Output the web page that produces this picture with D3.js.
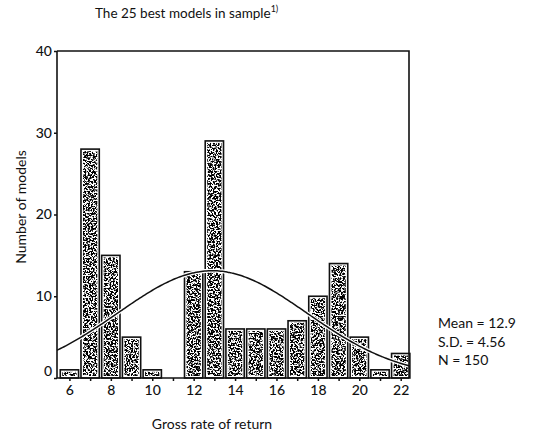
<!DOCTYPE html>
<html>
<head>
<meta charset="utf-8">
<script src="https://cdn.jsdelivr.net/npm/d3@7"></script>
<style>
  html, body { margin: 0; padding: 0; background: #fff; }
  svg { display: block; }
  text { font-family: Lato, "Noto Sans", sans-serif; fill: #111; }
</style>
</head>
<body>
<script>
// Histogram of gross rate of return, with fitted normal curve
const binCenters = [6, 7, 8, 9, 10, 11, 12, 13, 14, 15, 16, 17, 18, 19, 20, 21, 22];
const counts     = [1, 28, 15, 5, 1, 0, 13, 29, 6, 6, 6, 7, 10, 14, 5, 1, 3];
const xTickLabels = [6, 8, 10, 12, 14, 16, 18, 20, 22];
const yTickLabels = [0, 10, 20, 30, 40];
const statLines = ["Mean = 12.9", "S.D. = 4.56", "N = 150"];
const fitMean = 12.9, fitSD = 4.56, fitN = 150, binWidth = 1;

const W = 536, H = 435;
const box = { left: 57, right: 409, top: 51, bottom: 378 };

const svg = d3.select("body").append("svg")
  .attr("width", W).attr("height", H);

// stipple texture for the bar fills
const defs = svg.append("defs");
const grain = defs.append("filter").attr("id", "grain")
  .attr("x", 0).attr("y", 0).attr("width", "100%").attr("height", "100%")
  .attr("filterUnits", "objectBoundingBox");
grain.append("feTurbulence")
  .attr("type", "fractalNoise").attr("baseFrequency", 0.6)
  .attr("numOctaves", 2).attr("seed", 7).attr("result", "noise");
grain.append("feColorMatrix").attr("in", "noise").attr("type", "matrix")
  .attr("values", "0 0 0 0 0  0 0 0 0 0  0 0 0 0 0  1 0 0 0 0")
  .attr("result", "mono");
const ct = grain.append("feComponentTransfer").attr("in", "mono").attr("result", "dots");
ct.append("feFuncA").attr("type", "linear").attr("slope", 10).attr("intercept", -4.4);
grain.append("feComposite").attr("in", "dots").attr("in2", "SourceGraphic").attr("operator", "in");

const x = d3.scaleLinear().domain([5.4, 22.4]).range([box.left, box.right]);
const y = d3.scaleLinear().domain([0, 40]).range([box.bottom, box.top]);

const bins = binCenters.map((c, i) => ({ c, v: counts[i] })).filter(d => d.v > 0);

// bars: black outline, thin white inset, stippled core
const bars = svg.append("g");
bars.selectAll("rect.outer").data(bins).join("rect")
  .attr("class", "outer")
  .attr("x", d => x(d.c - binWidth / 2) + 1.2)
  .attr("y", d => y(d.v))
  .attr("width", d => x(d.c + binWidth / 2) - x(d.c - binWidth / 2) - 2.4)
  .attr("height", d => y(0) - y(d.v))
  .attr("fill", "#fff").attr("stroke", "#111").attr("stroke-width", 1.6);
bars.selectAll("rect.core").data(bins).join("rect")
  .attr("class", "core")
  .attr("x", d => x(d.c - binWidth / 2) + 3.2)
  .attr("y", d => y(d.v) + 2)
  .attr("width", d => x(d.c + binWidth / 2) - x(d.c - binWidth / 2) - 6.4)
  .attr("height", d => Math.max(0, y(0) - y(d.v) - 4))
  .attr("fill", "#000").attr("filter", "url(#grain)");

// normal curve from the stated mean, S.D. and N
const [x0, x1] = x.domain();
const curvePts = d3.range(0, 201).map(k => {
  const t = x0 + (x1 - x0) * k / 200;
  const z = (t - fitMean) / fitSD;
  return [t, fitN * binWidth / (fitSD * Math.sqrt(2 * Math.PI)) * Math.exp(-0.5 * z * z)];
});
const line = d3.line().x(d => x(d[0])).y(d => y(d[1])).curve(d3.curveBasis);
svg.append("path").datum(curvePts).attr("d", line)
  .attr("fill", "none").attr("stroke", "#fff").attr("stroke-width", 4);
svg.append("path").datum(curvePts).attr("d", line)
  .attr("fill", "none").attr("stroke", "#111").attr("stroke-width", 1.5);

// frame: top and right edges
svg.append("path")
  .attr("d", `M${box.left},${box.top}H${box.right}V${box.bottom}`)
  .attr("fill", "none").attr("stroke", "#111").attr("stroke-width", 1.6);

// x axis
const xAxis = svg.append("g").attr("transform", `translate(0,${box.bottom})`)
  .call(d3.axisBottom(x).tickValues(binCenters).tickSize(3).tickPadding(4)
    .tickFormat(d => xTickLabels.includes(d) ? d : ""));
xAxis.select(".domain").attr("d", `M${box.left},0H${box.right}`).attr("stroke", "#111").attr("stroke-width", 1.6);
xAxis.selectAll(".tick line").attr("stroke", "#111").attr("stroke-width", 1.5);
xAxis.selectAll("text").attr("font-size", 14).attr("font-weight", 500).style("font-family", "Lato, sans-serif");

// y axis
const yAxis = svg.append("g").attr("transform", `translate(${box.left},0)`)
  .call(d3.axisLeft(y).tickValues(yTickLabels).tickSize(3).tickPadding(2));
yAxis.select(".domain").attr("d", `M0,${box.top}V${box.bottom}`).attr("stroke", "#111").attr("stroke-width", 1.6);
yAxis.selectAll(".tick line").attr("stroke", "#111").attr("stroke-width", 1.5);
yAxis.selectAll("text").attr("font-size", 14).attr("font-weight", 500).style("font-family", "Lato, sans-serif")
  .attr("dy", d => d === 0 ? "-0.2em" : "0.32em");

// title with footnote marker
const title = svg.append("text").attr("x", 95).attr("y", 18).attr("font-size", 13.5);
title.append("tspan").text("The 25 best models in sample");
title.append("tspan").attr("dy", -6).attr("font-size", 9).text("1)");

// axis titles
svg.append("text").attr("x", 212).attr("y", 429).attr("text-anchor", "middle")
  .attr("font-size", 14).text("Gross rate of return");
svg.append("text").attr("transform", "translate(26,207) rotate(-90)")
  .attr("text-anchor", "middle").attr("font-size", 14).text("Number of models");

// summary statistics
svg.append("g").selectAll("text").data(statLines).join("text")
  .attr("x", 438).attr("y", (d, i) => 328 + i * 18.5)
  .attr("font-size", 14).text(d => d);
</script>
</body>
</html>
